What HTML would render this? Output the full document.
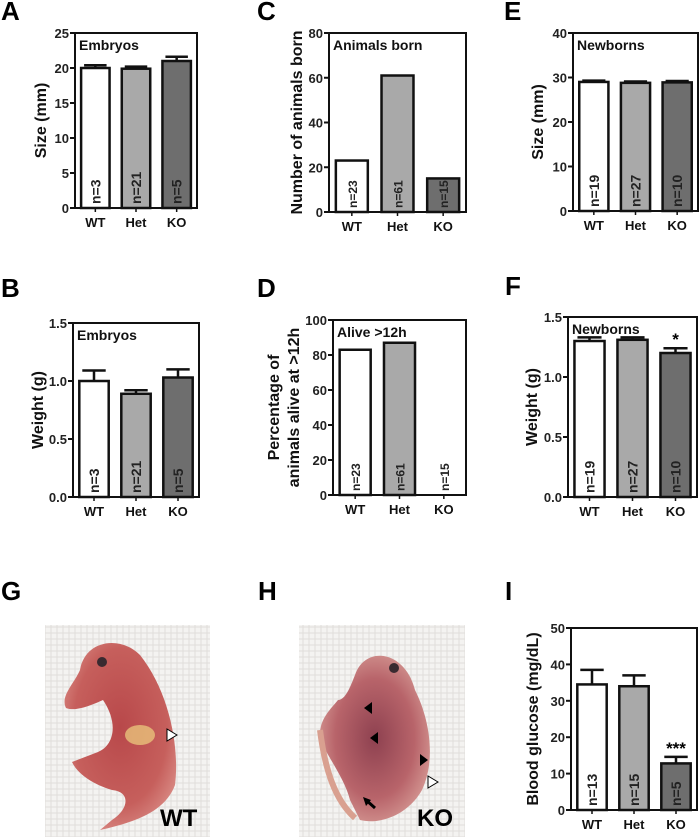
<!DOCTYPE html>
<html><head><meta charset="utf-8"><style>
body{margin:0;background:#fff;width:700px;height:840px;overflow:hidden}
svg{display:block;font-family:"Liberation Sans",Arial,sans-serif}
</style></head><body>
<svg id="fig" width="700" height="840" viewBox="0 0 700 840">
<defs>
<pattern id="gauze" width="6" height="6" patternUnits="userSpaceOnUse"><rect width="6" height="6" fill="#f4f3f1"/><path d="M0 3H6M3 0V6" stroke="#e0dedb" stroke-width="1"/></pattern>
<radialGradient id="skin" cx="50%" cy="45%" r="60%"><stop offset="0" stop-color="#b8484a"/><stop offset="0.7" stop-color="#c65f5c"/><stop offset="1" stop-color="#d98a84"/></radialGradient>
<radialGradient id="skin2" cx="50%" cy="50%" r="60%"><stop offset="0" stop-color="#8e4150"/><stop offset="0.6" stop-color="#b8646a"/><stop offset="1" stop-color="#dba39c"/></radialGradient>
</defs>
<g>
<rect x="45" y="625" width="165" height="212" fill="url(#gauze)"/>
<path d="M80 670 C85 640 120 635 140 655 C168 690 180 745 175 785 C165 812 135 822 100 830 L112 820 C128 810 132 792 112 790 C95 785 78 775 72 762 L98 752 C115 745 118 722 103 700 C92 705 75 712 66 708 C60 696 74 684 80 670 Z" fill="url(#skin)"/>
<ellipse cx="140" cy="735" rx="15" ry="10" fill="#e8c27a" opacity="0.8"/>
<circle cx="102" cy="662" r="5" fill="#3a2a30"/>
<polygon points="177,735 167,729 167,741" fill="#fff" stroke="#000" stroke-width="1"/>
<text x="160" y="826" font-size="24" font-weight="bold">WT</text>
</g>
<g>
<rect x="299" y="625" width="166" height="212" fill="url(#gauze)"/>
<path d="M355 675 C365 645 405 650 415 690 C430 720 436 760 422 790 C408 815 380 825 360 820 L350 800 C345 780 330 760 320 740 C318 720 330 710 338 700 C345 700 350 688 355 675 Z" fill="url(#skin2)"/>
<path d="M320 730 C325 770 335 800 355 818" stroke="#d9a090" stroke-width="6" fill="none"/>
<circle cx="394" cy="668" r="5" fill="#3a2a30"/>
<polygon points="364,708 372,702 372,714" fill="#000"/>
<polygon points="370,738 378,732 378,744" fill="#000"/>
<polygon points="428,760 420,754 420,766" fill="#000"/>
<polygon points="438,782 428,776 428,788" fill="#fff" stroke="#000"/>
<path d="M375 808 L366 800" stroke="#000" stroke-width="3"/>
<polygon points="363,797 371,800 366,806" fill="#000"/>
<text x="417" y="826" font-size="24" font-weight="bold">KO</text>
</g>
</svg>
<script>
const categories=["WT","Het","KO"];
const fills=["#ffffff","#a9a9a9","#6e6e6e"];
const aVals=[20,19.9,21]; const aErr=[0.4,0.3,0.6]; const aN=["n=3","n=21","n=5"]; const aTicks=[0,5,10,15,20,25];
const bVals=[1.0,0.89,1.03]; const bErr=[0.09,0.03,0.07]; const bN=["n=3","n=21","n=5"]; const bTicks=[0.0,0.5,1.0,1.5];
const cVals=[23,61,15]; const cN=["n=23","n=61","n=15"]; const cTicks=[0,20,40,60,80];
const dVals=[83,87,0]; const dN=["n=23","n=61","n=15"]; const dTicks=[0,20,40,60,80,100];
const eVals=[29,28.8,28.9]; const eErr=[0.3,0.3,0.3]; const eN=["n=19","n=27","n=10"]; const eTicks=[0,10,20,30,40];
const fVals=[1.3,1.31,1.2]; const fErr=[0.03,0.02,0.04]; const fN=["n=19","n=27","n=10"]; const fTicks=[0.0,0.5,1.0,1.5];
const iVals=[34.5,34,12.8]; const iErr=[4,3,1.8]; const iN=["n=13","n=15","n=5"]; const iTicks=[0,10,20,30,40,50];
const NS="http://www.w3.org/2000/svg";
const svg=document.getElementById('fig');
function el(tag,attrs,parent,txt){const e=document.createElementNS(NS,tag);for(const k in attrs)e.setAttribute(k,attrs[k]);if(txt!==undefined)e.textContent=txt;(parent||svg).appendChild(e);return e;}
function chart(o){
 const g=el('g',{});
 
 
 const max=o.ticks[o.ticks.length-1];
 const y=v=>o.y1-(v/max)*(o.y1-o.y0);
 const band=(o.x1-o.x0)/3;
 const xc=i=>o.x0+band*(i+0.5);
 const bw=band*0.7;
 o.vals.forEach((v,i)=>{
  if(o.err){const t=y(v+o.err[i]);const l=el('path',{d:`M${xc(i)} ${y(v)}V${t}M${xc(i)-bw/2+3} ${t}H${xc(i)+bw/2-3}`,stroke:'#111','stroke-width':2.5,fill:'none'},g);
   
   }
  if(v>0){const r=el('rect',{x:xc(i)-bw/2,y:y(v),width:bw,height:o.y1-y(v),fill:fills[i],stroke:'#111','stroke-width':2.5},g);
   
   }
  const nt=el('text',{x:0,y:0,'font-size':o.nsize||14,'font-weight':'bold',fill:'#222',transform:`translate(${xc(i)+5},${o.y1-4}) rotate(-90)`},g,o.n[i]);
  
  
  el('path',{d:`M${xc(i)} ${o.y1}V${o.y1+4}`,stroke:'#111','stroke-width':1.5},g);
  const cl=el('text',{x:xc(i),y:o.y1+19,'font-size':13,'font-weight':'bold','text-anchor':'middle',fill:'#111'},g,categories[i]);
  
  
  if(o.star&&o.star[i]){const s=el('text',{x:xc(i),y:y(v+(o.err?o.err[i]:0))-3,'font-size':17,'font-weight':'bold','text-anchor':'middle'},g,o.star[i]);
   
   }
 });
 const box=el('rect',{x:o.x0,y:o.y0,width:o.x1-o.x0,height:o.y1-o.y0,fill:'none',stroke:'#111','stroke-width':2},g);
 
 
 o.ticks.forEach(t=>{
  el('path',{d:`M${o.x0-5} ${y(t)}H${o.x0}`,stroke:'#111','stroke-width':2},g);
  const tl=el('text',{x:o.x0-6,y:y(t)+5,'font-size':13,'font-weight':'bold','text-anchor':'end',fill:'#222'},g,o.fmt?t.toFixed(1):t);
  
  
 });
 o.ylab.forEach((s,k)=>{const yl=el('text',{x:0,y:0,'font-size':16,'font-weight':'bold','text-anchor':'middle',fill:'#111',transform:`translate(${o.ylx+k*20},${(o.y0+o.y1)/2}) rotate(-90)`},g,s);
  
  });
 if(o.title){const tt=el('text',{x:o.x0+4,y:o.y0+17,'font-size':14,'font-weight':'bold',fill:'#111'},g,o.title);
  
  }
 const pl=el('text',{x:o.lx,y:o.ly,'font-size':26,'font-weight':'bold'},g,o.letter);
 
 
}
chart({name:'chart-a-embryo-size',x0:75,x1:197,y0:33,y1:208,vals:aVals,err:aErr,n:aN,ticks:aTicks,ylab:['Size (mm)'],ylx:46,title:'Embryos',letter:'A',lx:1,ly:20});
chart({name:'chart-b-embryo-weight',x0:73,x1:199,y0:323,y1:497,vals:bVals,err:bErr,n:bN,ticks:bTicks,fmt:true,ylab:['Weight (g)'],ylx:43,title:'Embryos',letter:'B',lx:1,ly:297});
chart({name:'chart-c-animals-born',x0:329,x1:466,y0:33,y1:212,vals:cVals,n:cN,ticks:cTicks,nsize:12,ylab:['Number of animals born'],ylx:302,title:'Animals born',letter:'C',lx:257,ly:20});
chart({name:'chart-d-alive',x0:333,x1:466,y0:320,y1:495,vals:dVals,n:dN,ticks:dTicks,nsize:12,ylab:['Percentage of','animals alive at >12h'],ylx:279,title:'Alive >12h',letter:'D',lx:257,ly:297});
chart({name:'chart-e-newborn-size',x0:573,x1:698,y0:33,y1:211,vals:eVals,err:eErr,n:eN,ticks:eTicks,ylab:['Size (mm)'],ylx:543,title:'Newborns',letter:'E',lx:504,ly:20});
chart({name:'chart-f-newborn-weight',x0:568,x1:697,y0:317,y1:497,vals:fVals,err:fErr,n:fN,ticks:fTicks,fmt:true,ylab:['Weight (g)'],ylx:537,title:'Newborns',letter:'F',lx:505,ly:295,star:[null,null,'*']});
chart({name:'chart-i-blood-glucose',x0:571,x1:697,y0:628,y1:810,vals:iVals,err:iErr,n:iN,ticks:iTicks,ylab:['Blood glucose (mg/dL)'],ylx:538,letter:'I',lx:505,ly:600,star:[null,null,'***']});
[['G',1],['H',258]].forEach(([L,x])=>{const t=el('text',{x:x,y:600,'font-size':26,'font-weight':'bold'},svg,L);
 
 });
</script>
</body></html>
